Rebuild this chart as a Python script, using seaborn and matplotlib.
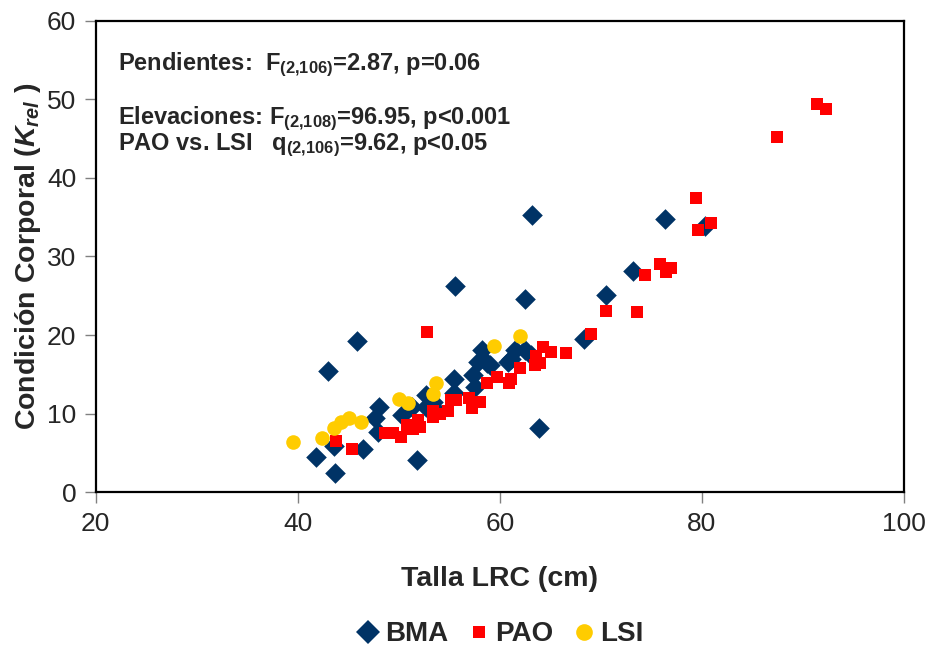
import matplotlib
matplotlib.use("Agg")
import matplotlib.pyplot as plt
import seaborn as sns
import pandas as pd
from matplotlib.lines import Line2D

# Talla LRC (cm) and condición corporal (K_rel) per locality
bma_talla = [41.8, 43.0, 43.7, 43.6, 45.9, 46.5, 48.0, 47.6, 47.9, 50.3, 51.3, 51.8,
             52.7, 52.7, 53.4, 55.5, 55.5, 55.6, 57.3, 57.5, 58.2, 57.8, 59.0, 60.8,
             61.5, 62.5, 63.1, 62.5, 63.2, 63.9, 68.3, 70.5, 73.2, 76.3, 80.3, 61.1,
             58.7, 53.4]
bma_kcond = [4.5, 15.4, 2.5, 5.9, 19.3, 5.5, 10.8, 9.4, 7.7, 9.8, 10.8, 4.1,
             12.4, 10.8, 11.5, 14.4, 12.6, 26.2, 14.9, 13.4, 18.1, 16.6, 16.2, 16.6,
             18.1, 18.1, 17.5, 24.6, 35.3, 8.2, 19.5, 25.1, 28.2, 34.8, 33.9, 17.0,
             16.4, 10.9]

pao_talla = [43.8, 45.4, 52.8, 48.6, 49.4, 50.2, 50.8, 51.4, 51.9, 52.1, 53.4, 53.4,
             54.1, 54.9, 55.2, 55.7, 56.9, 57.2, 58.0, 58.7, 59.7, 60.9, 61.1, 62.0,
             63.5, 64.0, 63.6, 64.3, 65.1, 66.5, 69.0, 70.5, 73.6, 74.4, 75.8, 76.4,
             76.9, 79.4, 79.6, 80.9, 87.4, 91.4, 92.3]
pao_kcond = [6.5, 5.5, 20.4, 7.6, 7.6, 7.0, 8.6, 8.1, 9.2, 8.3, 10.3, 9.6,
             10.0, 10.3, 11.7, 11.7, 12.0, 10.7, 11.5, 13.9, 14.7, 13.9, 14.4, 15.8,
             16.2, 16.4, 17.3, 18.5, 17.8, 17.7, 20.1, 23.1, 22.9, 27.6, 29.1, 28.0,
             28.5, 37.5, 33.4, 34.3, 45.2, 49.4, 48.7]

lsi_talla = [39.5, 42.4, 43.6, 44.3, 45.1, 46.3, 50.0, 50.9, 53.7, 53.4, 59.4, 62.0]
lsi_kcond = [6.4, 6.9, 8.2, 8.9, 9.5, 8.9, 11.9, 11.3, 13.9, 12.5, 18.6, 19.9]

groups = ["BMA", "PAO", "LSI"]
colors = {"BMA": "#003366", "PAO": "#FF0000", "LSI": "#FFCC00"}
markers = {"BMA": "D", "PAO": "s", "LSI": "o"}
msize = {"BMA": 10.5, "PAO": 8.0, "LSI": 10.5}
legend_msize = {"BMA": 12, "PAO": 9, "LSI": 12}

df = pd.concat([
    pd.DataFrame({"talla": bma_talla, "k": bma_kcond, "grupo": "BMA"}),
    pd.DataFrame({"talla": pao_talla, "k": pao_kcond, "grupo": "PAO"}),
    pd.DataFrame({"talla": lsi_talla, "k": lsi_kcond, "grupo": "LSI"}),
])

sns.set_style("white")
plt.rcParams["font.family"] = ["Liberation Sans", "DejaVu Sans"]
plt.rcParams["mathtext.fontset"] = "custom"
plt.rcParams["mathtext.rm"] = "Liberation Sans:bold"
plt.rcParams["mathtext.bf"] = "Liberation Sans:bold"
plt.rcParams["mathtext.it"] = "Liberation Sans:bold:italic"

fig = plt.figure(figsize=(9.33, 6.5), dpi=100)
ax = fig.add_axes([0.1026, 0.2426, 0.8664, 0.7256])

for g in groups:
    sub = df[df["grupo"] == g]
    sns.scatterplot(data=sub, x="talla", y="k", ax=ax, marker=markers[g],
                    color=colors[g], s=msize[g] ** 2, linewidth=0, legend=False)

ax.set_xlim(20, 100)
ax.set_ylim(0, 60)
ax.set_xticks([20, 40, 60, 80, 100])
ax.set_yticks([0, 10, 20, 30, 40, 50, 60])
ax.tick_params(axis="both", direction="out", length=8, width=1, color="#808080",
               labelsize=19, pad=6, left=True, bottom=True)
for sp in ax.spines.values():
    sp.set_color("black")
    sp.set_linewidth(1.6)

ax.set_xlabel("Talla LRC (cm)", fontsize=20.5, fontweight="bold", labelpad=22)
ax.set_ylabel(r"Condición Corporal ($K_{rel}$ )", fontsize=20.5, fontweight="bold",
              labelpad=3)

txt = dict(fontsize=17, fontweight="bold", transform=ax.transAxes, va="baseline")
ax.text(0.027, 0.8955, r"Pendientes:  F$_{(2{,}106)}$=2.87, p=0.06", **txt)
ax.text(0.027, 0.781, r"Elevaciones: F$_{(2{,}108)}$=96.95, p<0.001", **txt)
ax.text(0.027, 0.726, r"PAO vs. LSI   q$_{(2{,}106)}$=9.62, p<0.05", **txt)

handles = [Line2D([], [], linestyle="none", marker=markers[g], color=colors[g],
                  markeredgewidth=0, markersize=legend_msize[g], label=g)
           for g in groups]
fig.legend(handles=handles, loc="center", bbox_to_anchor=(0.535, 0.024), ncol=3,
           frameon=False, prop={"size": 20, "weight": "bold"}, handletextpad=0.1,
           columnspacing=0.6, handlelength=1.0)

fig.savefig("out.png", dpi=100)
